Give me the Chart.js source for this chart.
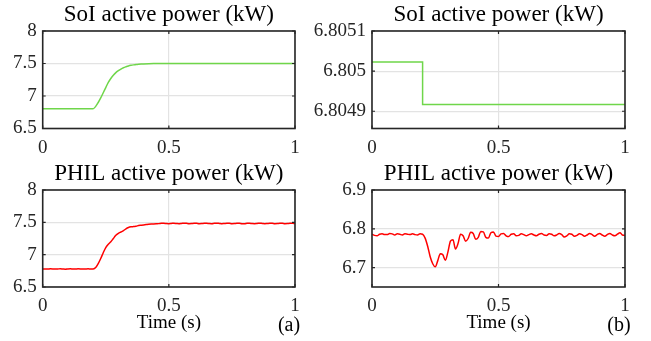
<!DOCTYPE html>
<html>
<head>
<meta charset="utf-8">
<script src="https://cdn.jsdelivr.net/npm/chart.js@4/dist/chart.umd.min.js"></script>
<style>
  html, body { margin: 0; padding: 0; background: #ffffff; }
  #wrap { position: relative; width: 651px; height: 341px; }
  #wrap canvas { position: absolute; left: 0; top: 0; }
</style>
</head>
<body>
<div id="wrap">
  <canvas id="soiA" width="651" height="341"></canvas>
  <canvas id="soiB" width="651" height="341"></canvas>
  <canvas id="philA" width="651" height="341"></canvas>
  <canvas id="philB" width="651" height="341"></canvas>
</div>
<script>
// ---- Data -------------------------------------------------------------
// Sample times (s) of the measured PHIL traces, 10 ms apart
const SAMPLE_TIMES = Array.from({ length: 101 }, (_, i) => i / 100);

// (a) SoI active power, kW
const SOI_A_TIMES = [0, 0.20, 0.21, 0.22, 0.23, 0.24, 0.25, 0.26, 0.27, 0.28, 0.29, 0.30,
  0.31, 0.32, 0.33, 0.34, 0.35, 0.36, 0.37, 0.38, 0.39, 0.40, 0.42, 0.44, 0.47, 0.50, 1.00];
const SOI_A_POWER = [6.805, 6.805, 6.84, 6.90, 6.97, 7.05, 7.13, 7.21, 7.27, 7.32, 7.36, 7.39,
  7.415, 7.435, 7.45, 7.463, 7.472, 7.479, 7.485, 7.489, 7.492, 7.494, 7.497, 7.499, 7.4995, 7.5, 7.5];

// (b) SoI active power, kW (single step at t = 0.2 s)
const SOI_B_TIMES = [0, 0.2, 0.2, 1];
const SOI_B_POWER = [6.8050225, 6.8050225, 6.8049168, 6.8049168];

// (a) PHIL active power, kW
const PHIL_A_POWER = [
  6.780, 6.778, 6.777, 6.781, 6.780, 6.777, 6.779, 6.782, 6.778, 6.775,
  6.780, 6.782, 6.778, 6.777, 6.781, 6.780, 6.777, 6.779, 6.781, 6.778,
  6.779, 6.80, 6.86, 6.94, 7.03, 7.11, 7.16, 7.20, 7.25, 7.30,
  7.33, 7.35, 7.37, 7.40, 7.42, 7.43, 7.435, 7.44, 7.45, 7.455,
  7.46, 7.465, 7.47, 7.474, 7.476, 7.478,
  7.480, 7.484, 7.486, 7.481, 7.479, 7.483, 7.486, 7.482, 7.478, 7.482,
  7.487, 7.484, 7.479, 7.481, 7.486, 7.485, 7.480, 7.481, 7.485, 7.486,
  7.481, 7.479, 7.484, 7.487, 7.483, 7.478, 7.482, 7.486, 7.484, 7.479,
  7.481, 7.486, 7.485, 7.480, 7.480, 7.485, 7.486, 7.481, 7.479, 7.483,
  7.487, 7.483, 7.479, 7.482, 7.486, 7.484, 7.479, 7.481, 7.486, 7.485,
  7.480, 7.481, 7.485, 7.486, 7.482
];

// (b) PHIL active power, kW
const PHIL_B_POWER = [
  6.786, 6.783, 6.782, 6.786, 6.787, 6.785, 6.785, 6.788, 6.787, 6.784,
  6.787, 6.786, 6.784, 6.787, 6.786, 6.785, 6.787, 6.785, 6.784, 6.787,
  6.786, 6.776, 6.755, 6.728, 6.710, 6.702, 6.718, 6.736, 6.733, 6.719,
  6.740, 6.768, 6.772, 6.748, 6.762, 6.786, 6.782, 6.768, 6.775, 6.791,
  6.788, 6.773, 6.778, 6.793, 6.792, 6.778, 6.776, 6.790, 6.792, 6.781,
  6.780, 6.787, 6.788, 6.782, 6.780, 6.786, 6.787, 6.782, 6.783, 6.787,
  6.785, 6.782, 6.785, 6.787, 6.784, 6.782, 6.786, 6.788, 6.784, 6.783,
  6.787, 6.786, 6.782, 6.784, 6.788, 6.785, 6.779, 6.782, 6.787, 6.786,
  6.781, 6.783, 6.787, 6.785, 6.781, 6.784, 6.788, 6.785, 6.781, 6.785,
  6.788, 6.784, 6.781, 6.785, 6.788, 6.784, 6.782, 6.786, 6.790, 6.784,
  6.783
];

// Axis ticks
const X_TICKS = [0, 0.5, 1];
const X_TICK_LABELS = ['0', '0.5', '1'];
const Y_TICKS_A = [6.5, 7, 7.5, 8];
const Y_TICK_LABELS_A = ['6.5', '7', '7.5', '8'];
const Y_TICKS_SOI_B = [6.8049, 6.805, 6.8051];
const Y_TICK_LABELS_SOI_B = ['6.8049', '6.805', '6.8051'];
const Y_TICKS_PHIL_B = [6.7, 6.8, 6.9];
const Y_TICK_LABELS_PHIL_B = ['6.7', '6.8', '6.9'];

// ---- Drawing ----------------------------------------------------------
const W = 651, H = 341;
const FONT = "'Liberation Serif', 'Times New Roman', serif";
const AXIS_COLOR = '#262626';
const GRID_COLOR = '#e3e3e3';
const Y_AXIS_W = 70, X_AXIS_H = 30;

const GREEN = '#6fd64a';
const RED = '#ff0000';

function points(xs, ys) {
  return xs.map((x, i) => ({ x: x, y: ys[i] }));
}

// Frame, inward tick marks and panel texts in the MATLAB style
const panelDecor = {
  id: 'panelDecor',
  afterDraw(chart, args, opts) {
    const ctx = chart.ctx;
    const a = chart.chartArea;
    const xs = chart.scales.x, ys = chart.scales.y;
    ctx.save();
    ctx.strokeStyle = AXIS_COLOR;
    ctx.lineWidth = 1.6;
    ctx.strokeRect(a.left, a.top, a.right - a.left, a.bottom - a.top);
    ctx.lineWidth = 1.2;
    const tl = 3;
    ctx.beginPath();
    xs.ticks.forEach(t => {
      const px = xs.getPixelForValue(t.value);
      ctx.moveTo(px, a.bottom); ctx.lineTo(px, a.bottom - tl);
      ctx.moveTo(px, a.top); ctx.lineTo(px, a.top + tl);
    });
    ys.ticks.forEach(t => {
      const py = ys.getPixelForValue(t.value);
      ctx.moveTo(a.left, py); ctx.lineTo(a.left + tl, py);
      ctx.moveTo(a.right, py); ctx.lineTo(a.right - tl, py);
    });
    ctx.stroke();

    const cx = (a.left + a.right) / 2;
    ctx.fillStyle = '#000000';
    ctx.textAlign = 'center';
    ctx.textBaseline = 'alphabetic';
    ctx.font = '23px ' + FONT;
    ctx.fillText(opts.title, cx, a.top - 10.5);
    if (opts.xLabel) {
      ctx.font = '19px ' + FONT;
      ctx.fillText(opts.xLabel, cx, a.bottom + 41);
    }
    if (opts.tag) {
      ctx.font = '20px ' + FONT;
      ctx.fillText(opts.tag, a.right - 6, a.bottom + 44);
    }
    ctx.restore();
  }
};

function makePanel(id, area, series, yRange, yTicks, yLabels, decor) {
  const ctx = document.getElementById(id).getContext('2d');
  return new Chart(ctx, {
    type: 'line',
    data: {
      datasets: [{
        data: series.data,
        borderColor: series.color,
        borderWidth: 1.5,
        pointRadius: 0,
        fill: false,
        tension: series.smooth ? 0.4 : 0,
        cubicInterpolationMode: series.smooth ? 'monotone' : 'default'
      }]
    },
    options: {
      responsive: false,
      devicePixelRatio: 1,
      animation: false,
      events: [],
      layout: {
        padding: {
          left: area.left - Y_AXIS_W,
          right: W - area.right,
          top: area.top,
          bottom: H - area.bottom - X_AXIS_H
        }
      },
      plugins: {
        legend: { display: false },
        title: { display: false },
        tooltip: { enabled: false },
        panelDecor: decor
      },
      scales: {
        x: {
          type: 'linear',
          min: 0, max: 1,
          afterFit: s => { s.height = X_AXIS_H; },
          afterBuildTicks: s => { s.ticks = X_TICKS.map(v => ({ value: v })); },
          ticks: {
            callback: (v, i) => X_TICK_LABELS[i],
            font: { family: FONT, size: 19 },
            color: AXIS_COLOR,
            padding: 8,
            maxRotation: 0,
            autoSkip: false
          },
          grid: { color: GRID_COLOR, lineWidth: 1.2, drawTicks: false },
          border: { display: false }
        },
        y: {
          min: yRange[0], max: yRange[1],
          afterFit: s => { s.width = Y_AXIS_W; },
          afterBuildTicks: s => { s.ticks = yTicks.map(v => ({ value: v })); },
          ticks: {
            callback: (v, i) => yLabels[i],
            font: { family: FONT, size: 19 },
            color: AXIS_COLOR,
            padding: 6,
            autoSkip: false
          },
          grid: { color: GRID_COLOR, lineWidth: 1.2, drawTicks: false },
          border: { display: false }
        }
      }
    },
    plugins: [panelDecor]
  });
}

const LEFT_X = [42.7, 295];
const RIGHT_X = [372, 625];
const TOP_Y = [31, 128.5];
const BOT_Y = [190, 287];

makePanel('soiA',
  { left: LEFT_X[0], right: LEFT_X[1], top: TOP_Y[0], bottom: TOP_Y[1] },
  { data: points(SOI_A_TIMES, SOI_A_POWER), color: GREEN, smooth: true },
  [6.5, 8], Y_TICKS_A, Y_TICK_LABELS_A,
  { title: 'SoI active power (kW)' });

makePanel('soiB',
  { left: RIGHT_X[0], right: RIGHT_X[1], top: TOP_Y[0], bottom: TOP_Y[1] },
  { data: points(SOI_B_TIMES, SOI_B_POWER), color: GREEN, smooth: false },
  [6.804857, 6.8051], Y_TICKS_SOI_B, Y_TICK_LABELS_SOI_B,
  { title: 'SoI active power (kW)' });

makePanel('philA',
  { left: LEFT_X[0], right: LEFT_X[1], top: BOT_Y[0], bottom: BOT_Y[1] },
  { data: points(SAMPLE_TIMES, PHIL_A_POWER), color: RED, smooth: true },
  [6.5, 8], Y_TICKS_A, Y_TICK_LABELS_A,
  { title: 'PHIL active power (kW)', xLabel: 'Time (s)', tag: '(a)' });

makePanel('philB',
  { left: RIGHT_X[0], right: RIGHT_X[1], top: BOT_Y[0], bottom: BOT_Y[1] },
  { data: points(SAMPLE_TIMES, PHIL_B_POWER), color: RED, smooth: true },
  [6.65, 6.9], Y_TICKS_PHIL_B, Y_TICK_LABELS_PHIL_B,
  { title: 'PHIL active power (kW)', xLabel: 'Time (s)', tag: '(b)' });
</script>
</body>
</html>
